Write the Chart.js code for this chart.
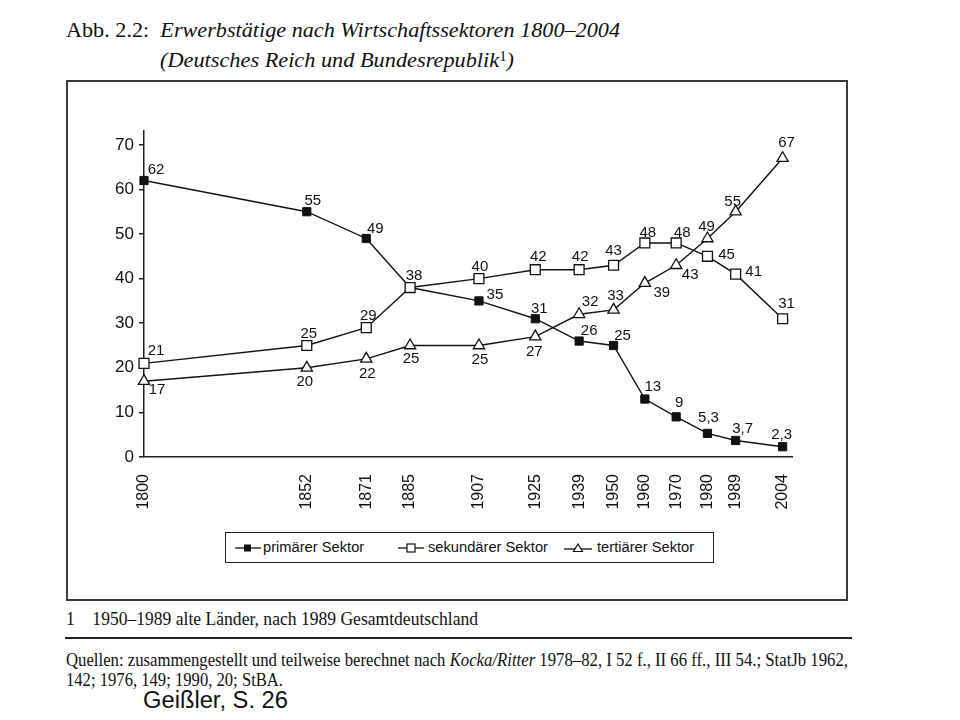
<!DOCTYPE html>
<html>
<head>
<meta charset="utf-8">
<script src="https://cdn.jsdelivr.net/npm/chart.js@4.4.0/dist/chart.umd.min.js"></script>
<style>
    body { margin: 0; width: 960px; height: 720px; background: #fff; position: relative; overflow: hidden;
           font-family: "Liberation Serif", "Times New Roman", serif; color: #111; }
    .abs { position: absolute; white-space: nowrap; transform-origin: 0 0; }
    .title { font-size: 21px; line-height: 24px; }
    .title i { font-style: italic; }
    .title sup { font-size: 14px; font-style: normal; vertical-align: 6px; line-height: 0; }
    #frame { position: absolute; left: 66px; top: 80px; width: 782px; height: 521px; box-sizing: border-box;
             border: 2px solid #3a3a3a; }
    #legend { position: absolute; left: 225px; top: 532px; width: 489px; height: 31px; box-sizing: border-box;
              border: 1.5px solid #222; font-family: "Liberation Sans", Arial, sans-serif; font-size: 14.7px; }
    #legend .sym { position: absolute; top: 9px; }
    #legend .txt { position: absolute; top: 6px; white-space: nowrap; }
    .note { font-size: 18px; line-height: 20px; }
    .rule { position: absolute; left: 65px; width: 787px; height: 0; border-top: 2px solid #222; }
    #source { font-family: "Liberation Sans", Arial, sans-serif; font-size: 23px; line-height: 26px; }
    #chart { position: absolute; left: 0; top: 0; }
</style>
</head>
<body>
<div class="abs title" id="title1" style="left:66px; top:18px;">Abb. 2.2:&nbsp; <i>Erwerbstätige nach Wirtschaftssektoren 1800–2004</i></div>
<div class="abs title" id="title2" style="left:160px; top:48px;"><i>(Deutsches Reich und Bundesrepublik</i><sup>1</sup><i>)</i></div>

<div id="frame"></div>

<div id="legend">
    <svg class="sym" style="left:9px" width="26" height="12"><line x1="0" y1="6" x2="26" y2="6" stroke="#111" stroke-width="1.3"/><rect x="9" y="2.5" width="7" height="7" fill="#111"/></svg>
    <span class="txt" style="left:37px">primärer Sektor</span>
    <svg class="sym" style="left:172px" width="26" height="12"><line x1="0" y1="6" x2="26" y2="6" stroke="#111" stroke-width="1.3"/><rect x="9" y="2" width="8" height="8" fill="#fff" stroke="#111" stroke-width="1.2"/></svg>
    <span class="txt" style="left:202px">sekundärer Sektor</span>
    <svg class="sym" style="left:338px" width="28" height="12"><line x1="0" y1="7" x2="28" y2="7" stroke="#111" stroke-width="1.3"/><polygon points="14,2 18.5,9.5 9.5,9.5" fill="#fff" stroke="#111" stroke-width="1.2"/></svg>
    <span class="txt" style="left:371px">tertiärer Sektor</span>
</div>

<div class="abs note" id="note" style="left:66px; top:609px;">1&nbsp;&nbsp;&nbsp; 1950–1989 alte Länder, nach 1989 Gesamtdeutschland</div>
<div class="rule" style="top:637px;"></div>
<div class="abs note" id="src1" style="left:66px; top:650px;">Quellen: zusammengestellt und teilweise berechnet nach <i>Kocka/Ritter</i> 1978–82, I 52 f., II 66 ff., III 54.; StatJb 1962,</div>
<div class="abs note" id="src2" style="left:66px; top:670px;">142; 1976, 149; 1990, 20; StBA.</div>
<div class="abs" id="source" style="left:143px; top:687px;">Geißler, S. 26</div>

<canvas id="chart" width="960" height="720"></canvas>

<script>
// Erwerbstätige in % nach Sektoren
var years = [1800, 1852, 1871, 1885, 1907, 1925, 1939, 1950, 1960, 1970, 1980, 1989, 2004];
var primaer = [62, 55, 49, 38, 35, 31, 26, 25, 13, 9, 5.3, 3.7, 2.3];
var sekundaer = [21, 25, 29, 38, 40, 42, 42, 43, 48, 48, 45, 41, 31];
var tertiaer = [17, 20, 22, 25, 25, 27, 32, 33, 39, 43, 49, 55, 67];
var yTicks = [0, 10, 20, 30, 40, 50, 60, 70];
var seriesNames = ['primärer Sektor', 'sekundärer Sektor', 'tertiärer Sektor'];

// where each value label sits, relative to its marker (null = no label)
var primaerLabelPos = [[12, -11], [6, -11], [9, -10], null, [16, -6], [4, -10], [10, -10], [9, -10], [8, -12], [3, -14], [1, -16], [7, -12], [-1, -12]];
var sekundaerLabelPos = [[12, -12], [2, -12], [2, -12], [4, -12], [1, -12], [3, -13], [1, -13], [0, -14], [3, -10], [6, -10], [19, -1], [18, -2], [4, -15]];
var tertiaerLabelPos = [[13, 9], [-2, 14], [1, 15], [1, 13], [1, 14], [-1, 15], [11, -12], [2, -14], [17, 10], [14, 10], [-1, -12], [-3, -10], [4, -15]];
var labelPos = [primaerLabelPos, sekundaerLabelPos, tertiaerLabelPos];

function toPoints(values) {
    return years.map(function(year, i) {
        return { x: year, y: values[i] };
    });
}

function fitWidth(id, target) {
    var el = document.getElementById(id);
    var w = el.getBoundingClientRect().width;
    el.style.transform = 'scaleX(' + (target / w) + ')';
}

var valueLabels = {
    id: 'valueLabels',
    afterDatasetsDraw: function(chart) {
        var ctx = chart.ctx;
        ctx.save();
        ctx.font = '15px "Liberation Sans", Arial, sans-serif';
        ctx.fillStyle = '#111';
        ctx.textAlign = 'center';
        ctx.textBaseline = 'middle';
        chart.data.datasets.forEach(function(ds, d) {
            var meta = chart.getDatasetMeta(d);
            meta.data.forEach(function(pt, i) {
                var pos = labelPos[d][i];
                if (!pos) return;
                var text = String(ds.data[i].y).replace('.', ',');
                ctx.fillText(text, pt.x + pos[0], pt.y + pos[1]);
            });
        });
        ctx.restore();
    }
};

Chart.defaults.font.family = '"Liberation Sans", Arial, sans-serif';
Chart.defaults.color = '#111';

var ctx = document.getElementById('chart');
var sectorChart = new Chart(ctx, {
    type: 'line',
    data: {
        datasets: [{
            label: seriesNames[0],
            data: toPoints(primaer),
            order: 3,
            borderColor: '#111',
            borderWidth: 1.4,
            pointStyle: 'rect',
            pointRadius: 5.8,
            pointBackgroundColor: '#111',
            pointBorderColor: '#111',
            pointBorderWidth: 1,
            clip: false
        }, {
            label: seriesNames[1],
            data: toPoints(sekundaer),
            order: 1,
            borderColor: '#111',
            borderWidth: 1.4,
            pointStyle: 'rect',
            pointRadius: 7,
            pointBackgroundColor: '#fff',
            pointBorderColor: '#111',
            pointBorderWidth: 1.3,
            clip: false
        }, {
            label: seriesNames[2],
            data: toPoints(tertiaer),
            order: 2,
            borderColor: '#111',
            borderWidth: 1.4,
            pointStyle: 'triangle',
            pointRadius: 6.5,
            pointBackgroundColor: '#fff',
            pointBorderColor: '#111',
            pointBorderWidth: 1.3,
            clip: false
        }]
    },
    options: {
        responsive: false,
        animation: false,
        events: [],
        layout: { padding: { left: 0, right: 168, top: 131, bottom: 0 } },
        plugins: {
            legend: { display: false },
            tooltip: { enabled: false }
        },
        scales: {
            x: {
                type: 'linear',
                min: 1800,
                max: 2007,
                afterBuildTicks: function(scale) {
                    scale.ticks = years.map(function(v) { return { value: v }; });
                },
                afterFit: function(scale) { scale.height = 263; },
                grid: { display: false },
                border: { color: '#222', width: 1.5 },
                ticks: {
                    autoSkip: false,
                    minRotation: 90,
                    maxRotation: 90,
                    padding: 9,
                    font: { size: 16 },
                    callback: function(v) { return String(v); }
                }
            },
            y: {
                min: 0,
                max: 73.1,
                afterBuildTicks: function(scale) {
                    scale.ticks = yTicks.map(function(v) { return { value: v }; });
                },
                afterFit: function(scale) { scale.width = 144; },
                grid: { drawOnChartArea: false, drawTicks: true, tickLength: 5, color: '#222', lineWidth: 1.5 },
                border: { color: '#222', width: 1.5 },
                ticks: { padding: 5, font: { size: 17 } }
            }
        }
    },
    plugins: [valueLabels]
});

fitWidth('title1', 554);
fitWidth('title2', 354);
fitWidth('note', 412);
fitWidth('src1', 782);
fitWidth('src2', 217);
fitWidth('source', 145);
</script>
</body>
</html>
